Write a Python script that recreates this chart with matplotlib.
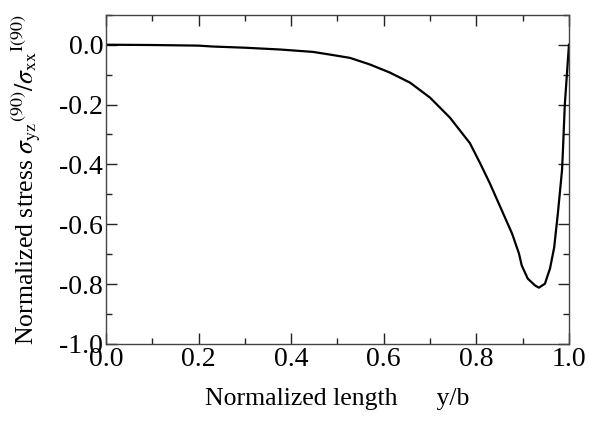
import matplotlib
matplotlib.use("Agg")
import matplotlib.pyplot as plt
from matplotlib.ticker import MultipleLocator

plt.rcParams['font.family'] = ['Liberation Serif', 'DejaVu Serif']
plt.rcParams['mathtext.fontset'] = 'stix'

# Data
y_over_b = [0.000, 0.100, 0.200, 0.230, 0.300, 0.376, 0.447, 0.484, 0.527, 0.570,
            0.613, 0.657, 0.700, 0.743, 0.786, 0.808, 0.829, 0.855, 0.877, 0.892,
            0.898, 0.911, 0.927, 0.935, 0.948, 0.959, 0.968, 0.976, 0.985, 0.987,
            0.991, 1.000]
stress = [0.000, -0.001, -0.003, -0.006, -0.010, -0.016, -0.024, -0.033, -0.044, -0.066,
          -0.093, -0.127, -0.177, -0.244, -0.329, -0.396, -0.463, -0.554, -0.631, -0.698,
          -0.738, -0.782, -0.805, -0.812, -0.799, -0.748, -0.678, -0.564, -0.419, -0.352,
          -0.200, 0.000]

xticks = [0.0, 0.2, 0.4, 0.6, 0.8, 1.0]
yticks = [0.0, -0.2, -0.4, -0.6, -0.8, -1.0]

fig = plt.figure(figsize=(5.89, 4.23), dpi=100)
ax = fig.add_axes([0.180, 0.187, 0.786, 0.778])
ax.plot(y_over_b, stress, color='black', lw=1.6)

ax.set_xlim(0, 1.0)
ax.set_ylim(-1.0, 0.1)
ax.set_xticks(xticks)
ax.set_yticks(yticks)
ax.set_xticklabels([f"{v:.1f}" for v in xticks])
ax.set_yticklabels([f"{v:.1f}" for v in yticks])
ax.xaxis.set_minor_locator(MultipleLocator(0.1))
ax.yaxis.set_minor_locator(MultipleLocator(0.1))
ax.tick_params(which='both', direction='in', top=True, right=True, width=1.0, color='#222222')
ax.tick_params(which='major', length=8, labelsize=20)
ax.tick_params(which='minor', length=4)
ax.tick_params(axis='x', pad=2)
ax.tick_params(axis='y', pad=2)
for s in ax.spines.values():
    s.set_linewidth(1.0)
    s.set_color('#444444')

ax.set_xlabel("Normalized length      y/b", fontsize=18.5, labelpad=12)
ax.set_ylabel(r"Normalized stress $\sigma_{\mathrm{yz}}{}^{(90)}/\sigma_{\mathrm{xx}}{}^{\mathrm{I}(90)}$",
              fontsize=18.5, labelpad=12)

fig.savefig("out.png", dpi=100)
